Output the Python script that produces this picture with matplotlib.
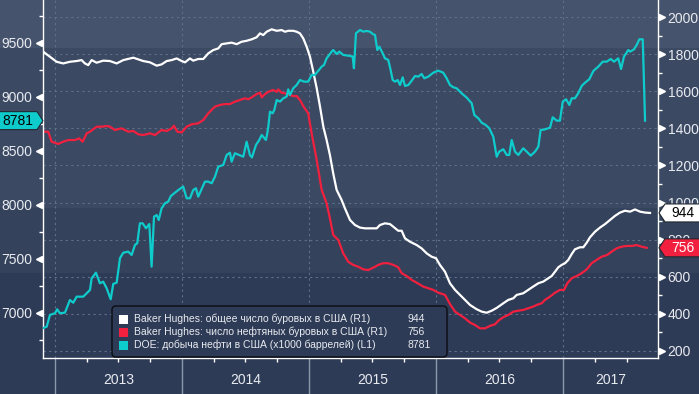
import matplotlib
matplotlib.use("Agg")
import matplotlib.pyplot as plt
from matplotlib.patches import Rectangle, Polygon, FancyBboxPatch
from matplotlib.transforms import blended_transform_factory
from matplotlib.ticker import MultipleLocator

plt.rcParams['font.family'] = ['Liberation Sans', 'DejaVu Sans']

# добыча нефти DOE (тыс. баррелей в день), левая шкала
prod_t = [2012.908, 2012.935, 2012.961, 2013.000, 2013.018, 2013.039, 2013.079, 2013.118, 2013.144, 2013.171,
          2013.223, 2013.276, 2013.289, 2013.323, 2013.354, 2013.380, 2013.407, 2013.439, 2013.459, 2013.486,
          2013.512, 2013.538, 2013.577, 2013.604, 2013.630, 2013.648, 2013.669, 2013.691, 2013.717, 2013.743,
          2013.761, 2013.780, 2013.801, 2013.817, 2013.840, 2013.866, 2013.892, 2013.913, 2013.945, 2013.979,
          2014.010, 2014.037, 2014.063, 2014.089, 2014.110, 2014.128, 2014.181, 2014.207, 2014.234, 2014.260,
          2014.286, 2014.325, 2014.352, 2014.378, 2014.391, 2014.417, 2014.451, 2014.483, 2014.509, 2014.535,
          2014.551, 2014.583, 2014.609, 2014.628, 2014.661, 2014.672, 2014.680, 2014.693, 2014.714, 2014.727,
          2014.746, 2014.772, 2014.798, 2014.824, 2014.837, 2014.850, 2014.876, 2014.903, 2014.929, 2014.961,
          2014.994, 2015.021, 2015.047, 2015.061, 2015.100, 2015.118, 2015.139, 2015.179, 2015.191, 2015.218,
          2015.239, 2015.270, 2015.323, 2015.344, 2015.354, 2015.370, 2015.402, 2015.428, 2015.454, 2015.480,
          2015.502, 2015.520, 2015.538, 2015.554, 2015.580, 2015.598, 2015.624, 2015.643, 2015.659, 2015.677,
          2015.698, 2015.717, 2015.738, 2015.756, 2015.782, 2015.809, 2015.835, 2015.861, 2015.887, 2015.908,
          2015.939, 2015.979, 2016.018, 2016.057, 2016.084, 2016.110, 2016.136, 2016.163, 2016.202, 2016.242,
          2016.281, 2016.302, 2016.333, 2016.360, 2016.391, 2016.420, 2016.451, 2016.478, 2016.498, 2016.530,
          2016.557, 2016.577, 2016.596, 2016.622, 2016.648, 2016.687, 2016.714, 2016.746, 2016.780, 2016.806,
          2016.824, 2016.858, 2016.898, 2016.919, 2016.950, 2016.976, 2016.998, 2017.024, 2017.050, 2017.069,
          2017.094, 2017.120, 2017.147, 2017.173, 2017.207, 2017.239, 2017.278, 2017.313, 2017.344, 2017.376,
          2017.402, 2017.435, 2017.457, 2017.480, 2017.514, 2017.528, 2017.559, 2017.580, 2017.601, 2017.628,
          2017.646]
prod_v = [6861, 6873, 6982, 6997, 7034, 6997, 7003, 7120, 7095, 7151,
          7151, 7213, 7321, 7373, 7275, 7290, 7229, 7127, 7269, 7281,
          7507, 7558, 7568, 7537, 7630, 7645, 7830, 7830, 7784, 7824,
          7429, 7892, 7907, 7861, 7969, 8016, 8031, 8083, 8114, 8145,
          8170, 8062, 8062, 8139, 8155, 8077, 8216, 8216, 8201, 8262,
          8355, 8370, 8463, 8484, 8401, 8479, 8463, 8447, 8586, 8463,
          8440, 8556, 8602, 8648, 8602, 8664, 8725, 8864, 8849, 8880,
          8972, 8957, 8988, 9003, 9071, 9018, 9080, 9111, 9157, 9142,
          9142, 9204, 9204, 9225, 9281, 9296, 9358, 9420, 9435, 9398,
          9420, 9389, 9380, 9374, 9266, 9590, 9620, 9605, 9611, 9605,
          9583, 9574, 9435, 9466, 9405, 9358, 9343, 9250, 9157, 9142,
          9157, 9111, 9182, 9102, 9111, 9151, 9194, 9188, 9213, 9173,
          9188, 9225, 9244, 9225, 9173, 9111, 9090, 9080, 9034, 8994,
          8942, 8833, 8803, 8762, 8741, 8710, 8632, 8447, 8494, 8516,
          8463, 8463, 8602, 8494, 8463, 8525, 8494, 8457, 8494, 8540,
          8694, 8700, 8716, 8812, 8781, 8781, 8957, 8979, 8926, 8988,
          8988, 9034, 9102, 9132, 9164, 9241, 9281, 9327, 9327, 9352,
          9327, 9358, 9259, 9373, 9435, 9420, 9441, 9481, 9534, 9534,
          8781]

# Baker Hughes: общее число буровых, правая шкала
total_t = [2012.908, 2012.961, 2013.013, 2013.065, 2013.118, 2013.171, 2013.210, 2013.236, 2013.262, 2013.289,
           2013.328, 2013.380, 2013.433, 2013.486, 2013.538, 2013.617, 2013.695, 2013.748, 2013.801, 2013.840,
           2013.880, 2013.919, 2013.958, 2013.998, 2014.024, 2014.063, 2014.089, 2014.128, 2014.168, 2014.207,
           2014.246, 2014.286, 2014.313, 2014.352, 2014.391, 2014.431, 2014.470, 2014.509, 2014.549, 2014.588,
           2014.614, 2014.640, 2014.667, 2014.706, 2014.746, 2014.785, 2014.811, 2014.837, 2014.876, 2014.903,
           2014.929, 2014.955, 2014.982, 2015.008, 2015.034, 2015.061, 2015.087, 2015.113, 2015.139, 2015.165,
           2015.191, 2015.218, 2015.257, 2015.283, 2015.323, 2015.362, 2015.402, 2015.441, 2015.480, 2015.533,
           2015.559, 2015.598, 2015.638, 2015.669, 2015.703, 2015.730, 2015.756, 2015.795, 2015.848, 2015.887,
           2015.927, 2015.966, 2016.000, 2016.031, 2016.071, 2016.110, 2016.150, 2016.189, 2016.228, 2016.268,
           2016.320, 2016.360, 2016.399, 2016.439, 2016.478, 2016.530, 2016.569, 2016.609, 2016.635, 2016.687,
           2016.726, 2016.765, 2016.806, 2016.845, 2016.884, 2016.911, 2016.937, 2016.963, 2016.990, 2017.016,
           2017.042, 2017.069, 2017.094, 2017.134, 2017.160, 2017.187, 2017.213, 2017.252, 2017.291, 2017.331,
           2017.370, 2017.409, 2017.449, 2017.488, 2017.528, 2017.567, 2017.606, 2017.646, 2017.685]
total_v = [1813, 1786, 1759, 1750, 1759, 1763, 1768, 1750, 1741, 1768,
           1754, 1765, 1763, 1750, 1768, 1781, 1763, 1756, 1738, 1745,
           1763, 1768, 1777, 1763, 1756, 1777, 1765, 1774, 1774, 1804,
           1822, 1831, 1854, 1858, 1862, 1854, 1867, 1872, 1880, 1891,
           1912, 1903, 1921, 1934, 1926, 1930, 1921, 1926, 1926, 1921,
           1912, 1885, 1840, 1786, 1705, 1616, 1517, 1409, 1337, 1256,
           1157, 1068, 1014, 969, 906, 879, 865, 861, 861, 861,
           879, 888, 884, 867, 848, 848, 807, 789, 771, 753,
           726, 708, 700, 664, 627, 565, 529, 502, 475, 448,
           425, 412, 406, 417, 432, 457, 475, 484, 502, 511,
           529, 547, 565, 574, 592, 604, 627, 651, 664, 673,
           691, 723, 748, 759, 759, 784, 813, 843, 865, 884,
           906, 928, 946, 956, 951, 963, 951, 946, 944]

# Baker Hughes: число нефтяных буровых, правая шкала
oil_t = [2012.908, 2012.947, 2012.974, 2013.026, 2013.065, 2013.105, 2013.157, 2013.191, 2013.218, 2013.250,
         2013.276, 2013.302, 2013.328, 2013.368, 2013.407, 2013.433, 2013.472, 2013.525, 2013.577, 2013.617,
         2013.656, 2013.695, 2013.748, 2013.787, 2013.840, 2013.880, 2013.919, 2013.937, 2013.963, 2013.998,
         2014.037, 2014.076, 2014.128, 2014.168, 2014.207, 2014.234, 2014.260, 2014.299, 2014.339, 2014.378,
         2014.417, 2014.457, 2014.496, 2014.522, 2014.549, 2014.588, 2014.614, 2014.628, 2014.654, 2014.680,
         2014.719, 2014.746, 2014.758, 2014.785, 2014.811, 2014.850, 2014.876, 2014.903, 2014.929, 2014.955,
         2014.994, 2015.021, 2015.061, 2015.100, 2015.139, 2015.165, 2015.191, 2015.231, 2015.270, 2015.309,
         2015.348, 2015.388, 2015.428, 2015.467, 2015.494, 2015.520, 2015.546, 2015.585, 2015.624, 2015.664,
         2015.703, 2015.730, 2015.769, 2015.809, 2015.848, 2015.900, 2015.939, 2015.979, 2016.018, 2016.071,
         2016.110, 2016.150, 2016.189, 2016.228, 2016.268, 2016.307, 2016.346, 2016.386, 2016.425, 2016.465,
         2016.491, 2016.530, 2016.569, 2016.609, 2016.648, 2016.687, 2016.726, 2016.765, 2016.793, 2016.832,
         2016.858, 2016.898, 2016.937, 2016.976, 2017.008, 2017.034, 2017.069, 2017.108, 2017.147, 2017.187,
         2017.226, 2017.265, 2017.304, 2017.346, 2017.383, 2017.422, 2017.461, 2017.500, 2017.541, 2017.580,
         2017.620, 2017.659]
oil_v = [1382, 1382, 1328, 1316, 1328, 1337, 1337, 1346, 1328, 1373,
         1382, 1395, 1409, 1409, 1413, 1409, 1391, 1400, 1382, 1386,
         1368, 1364, 1373, 1364, 1391, 1386, 1400, 1414, 1382, 1378,
         1409, 1422, 1427, 1445, 1481, 1499, 1517, 1526, 1531, 1531,
         1544, 1553, 1562, 1557, 1567, 1585, 1592, 1567, 1585, 1597,
         1607, 1597, 1610, 1592, 1589, 1580, 1574, 1574, 1553, 1520,
         1481, 1373, 1229, 1068, 996, 915, 825, 798, 726, 681,
         664, 654, 640, 636, 645, 654, 664, 673, 673, 664,
         651, 619, 604, 583, 568, 547, 538, 529, 514, 502,
         453, 412, 394, 376, 353, 340, 322, 322, 335, 344,
         363, 382, 394, 412, 417, 421, 430, 439, 448, 457,
         475, 493, 514, 529, 529, 565, 592, 604, 619, 640,
         673, 691, 708, 717, 735, 753, 762, 766, 766, 771,
         762, 756]

years = [2013, 2014, 2015, 2016, 2017]
legend_labels = ["Baker Hughes: общее число буровых в США (R1)",
                 "Baker Hughes: число нефтяных буровых в США (R1)",
                 "DOE: добыча нефти в США (x1000 баррелей) (L1)"]
legend_values = ["944", "756", "8781"]
last_total, last_oil, last_prod = 944, 756, 8781

c_white = "#ffffff"
c_red = "#f2203f"
c_cyan = "#0fcccc"

W, H = 699, 394
fig = plt.figure(figsize=(W / 100, H / 100), dpi=100)

# полосы фона
bands = [(0, 48, "#46536c"), (48, 208, "#3b4963"), (208, 273, "#34425c"), (273, 394, "#2e3b56")]
for top, bot, col in bands:
    fig.add_artist(Rectangle((0, 1 - bot / H), 1, (bot - top) / H, transform=fig.transFigure,
                             facecolor=col, edgecolor="none", zorder=-10))

ax = fig.add_axes([43 / W, 36 / H, 615 / W, 358 / H])
ax2 = ax.twinx()
ax.set_zorder(2)
ax2.set_zorder(1)
ax.patch.set_visible(False)
ax2.patch.set_visible(False)

xmin, xmax = 2012.906, 2017.748
ax.set_xlim(xmin, xmax)
ax.set_ylim(6583, 9898)
ax2.set_ylim(162, 2092)

# сетка
grid_col = "#5f7189"
ax2.yaxis.set_major_locator(MultipleLocator(200))
ax2.yaxis.set_minor_locator(MultipleLocator(100))
ax2.grid(axis="y", which="major", color=grid_col, ls=(0, (2, 3)), lw=0.8, zorder=0)
for y in years:
    ax2.axvline(y, color=grid_col, ls=(0, (2, 3)), lw=0.8, zorder=0)

ax2.plot(total_t, total_v, color=c_white, lw=1.6, zorder=3)
ax2.plot(oil_t, oil_v, color=c_red, lw=1.6, zorder=3)
ax.plot(prod_t, prod_v, color=c_cyan, lw=1.6, zorder=3)

# оси
for s in ["top", "right"]:
    ax.spines[s].set_visible(False)
for s in ["top", "left", "bottom"]:
    ax2.spines[s].set_visible(False)
for s in [ax.spines["left"], ax.spines["bottom"], ax2.spines["right"]]:
    s.set_color("white")
    s.set_linewidth(1)

lab_col = "#e8ebf0"
ax.yaxis.set_major_locator(MultipleLocator(500))
ax.yaxis.set_minor_locator(MultipleLocator(250))
ax.set_yticks(range(7000, 9501, 500))
ax.tick_params(axis="y", which="major", length=0, pad=8, labelsize=10, labelcolor=lab_col)
ax.tick_params(axis="y", which="minor", length=3, width=1, color="white")
ax2.set_yticks(range(200, 2001, 200))
ax2.tick_params(axis="y", which="major", length=0, pad=7, labelsize=10, labelcolor=lab_col)
ax2.tick_params(axis="y", which="minor", length=3, width=1, color="white")

lt = blended_transform_factory(ax.transAxes, ax.transData)
ax.plot([-0.0065] * 6, list(range(7000, 9501, 500)), ls="none", marker="<", ms=5,
        color="white", transform=lt, clip_on=False)
rt = blended_transform_factory(ax2.transAxes, ax2.transData)
ax2.plot([1.0065] * 10, list(range(200, 2001, 200)), ls="none", marker=">", ms=5,
         color="white", transform=rt, clip_on=False)

ax.set_xticks(years)
ax.set_xticklabels([])
ax.xaxis.set_minor_locator(MultipleLocator(0.25))
ax.tick_params(axis="x", which="major", length=26, width=1, color="#8c97a9")
ax.tick_params(axis="x", which="minor", length=3, width=1, color="white")

bt = blended_transform_factory(ax.transData, ax.transAxes)
for y in years:
    xc = (y + min(y + 1, xmax)) / 2
    ax.text(xc, -22 / 358, str(y), transform=bt, ha="center", va="center",
            fontsize=10, color=lab_col)

# легенда
fig.add_artist(FancyBboxPatch((112, 37), 335, 51, boxstyle="round,pad=0,rounding_size=4",
                              transform=None, facecolor="#2e3b56", edgecolor="#0b0d12",
                              lw=1, zorder=10))
for i, (lab, val, col) in enumerate(zip(legend_labels, legend_values, [c_white, c_red, c_cyan])):
    yc = H - (319 + 13 * i)
    fig.add_artist(Rectangle((119, yc - 4.5), 9, 9, transform=None, facecolor=col,
                             edgecolor="none", zorder=11))
    fig.text(134 / W, yc / H, lab, fontsize=7.5, color=lab_col, va="center", ha="left", zorder=11)
    fig.text(407 / W, yc / H, val, fontsize=7.5, color=lab_col, va="center", ha="left", zorder=11)


def tag(xtip, yc, width, text, fc, tc, pointing_left):
    h = 9
    if pointing_left:
        pts = [(xtip, yc), (xtip + 6, yc + h), (xtip + width, yc + h), (xtip + width, yc - h), (xtip + 6, yc - h)]
        xt = xtip + 6 + (width - 6) / 2
    else:
        pts = [(xtip - width, yc + h), (xtip - 6, yc + h), (xtip, yc), (xtip - 6, yc - h), (xtip - width, yc - h)]
        xt = xtip - width + (width - 6) / 2
    fig.add_artist(Polygon(pts, closed=True, transform=None, facecolor=fc,
                           edgecolor="#222831", lw=0.8, zorder=12))
    fig.text(xt / W, yc / H, text, fontsize=10, color=tc, ha="center", va="center", zorder=13)


y944 = ax2.transData.transform((xmax, last_total))[1]
y756 = ax2.transData.transform((xmax, last_oil))[1]
y8781 = ax.transData.transform((xmin, last_prod))[1]
tag(659, y944, 42, str(last_total), "#ffffff", "black", True)
tag(659, y756, 42, str(last_oil), c_red, "white", True)
tag(43, y8781, 45, str(last_prod), c_cyan, "black", False)

fig.savefig("out.png", dpi=100)
